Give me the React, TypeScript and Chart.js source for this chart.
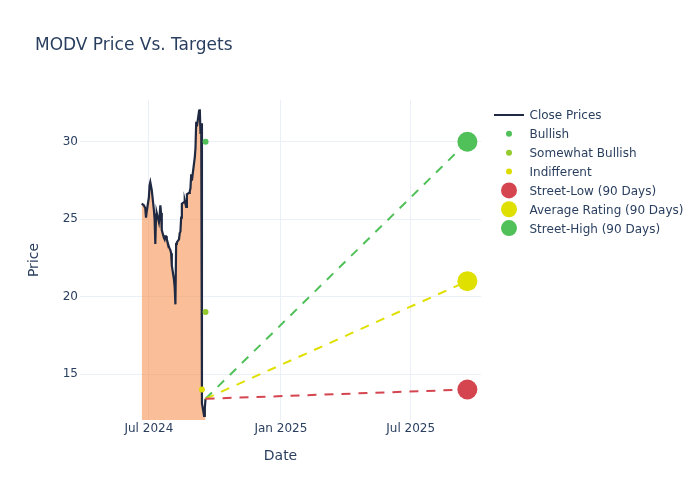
import React, { useEffect, useRef } from 'react';
import { Chart, registerables } from 'chart.js';

Chart.register(...registerables);

// ---------- data ----------
const TITLE = 'MODV Price Vs. Targets';
const X_TITLE = 'Date';
const Y_TITLE = 'Price';

const CLOSE_DATES = [
  '2024-06-21', '2024-06-24', '2024-06-25', '2024-06-26', '2024-06-27', '2024-06-28',
  '2024-07-01', '2024-07-02', '2024-07-03', '2024-07-05',
  '2024-07-08', '2024-07-09', '2024-07-10', '2024-07-11', '2024-07-12',
  '2024-07-15', '2024-07-16', '2024-07-17', '2024-07-18', '2024-07-19',
  '2024-07-22', '2024-07-23', '2024-07-24', '2024-07-25', '2024-07-26',
  '2024-07-29', '2024-07-30', '2024-07-31', '2024-08-01', '2024-08-02',
  '2024-08-05', '2024-08-06', '2024-08-07', '2024-08-08', '2024-08-09',
  '2024-08-12', '2024-08-13', '2024-08-14', '2024-08-15', '2024-08-16',
  '2024-08-19', '2024-08-20', '2024-08-21', '2024-08-22', '2024-08-23',
  '2024-08-26', '2024-08-27', '2024-08-28', '2024-08-29', '2024-08-30',
  '2024-09-03', '2024-09-04', '2024-09-05', '2024-09-06',
  '2024-09-09', '2024-09-10', '2024-09-11', '2024-09-12', '2024-09-13',
  '2024-09-16', '2024-09-17', '2024-09-18',
];
const CLOSE_PRICES = [
  26.0, 25.9, 25.8, 25.7, 25.1, 25.5,
  26.4, 27.2, 27.4, 26.9,
  25.6, 25.0, 23.4, 25.3, 25.4,
  24.8, 25.2, 25.9, 25.4, 24.3,
  23.8, 23.7, 23.9, 23.9, 23.7,
  23.2, 23.1, 23.0, 22.8, 22.0,
  21.1, 20.6, 19.5, 23.4, 23.5,
  23.7, 24.1, 24.2, 25.1, 26.0,
  26.1, 26.2, 26.0, 25.8, 26.6,
  26.7, 26.8, 27.0, 27.9, 27.5,
  29.0, 29.6, 31.3, 31.0,
  32.0, 32.1, 30.5, 31.2, 13.1,
  12.3, 12.8, 13.4,
];

const BULLISH_DATES = ['2024-09-18'];
const BULLISH_VALUES = [30];
const SOMEWHAT_BULLISH_DATES = ['2024-09-18'];
const SOMEWHAT_BULLISH_VALUES = [19];
const INDIFFERENT_DATES = ['2024-09-13'];
const INDIFFERENT_VALUES = [14];

const TARGET_DATE = '2025-09-18';
const STREET_LOW = 14;
const AVERAGE_RATING = 21;
const STREET_HIGH = 30;

const X_MIN = '2024-03-27';
const X_MAX = '2025-10-07';
const Y_MIN = 12.03;
const Y_MAX = 32.7;

const X_TICKS = ['2024-07-01', '2025-01-01', '2025-07-01'];
const X_TICK_LABELS = ['Jul 2024', 'Jan 2025', 'Jul 2025'];
const Y_TICKS = [15, 20, 25, 30];

// ---------- style ----------
const FONT = '"DejaVu Sans", sans-serif';
const TEXT_COLOR = '#2a3f5f';
const GRID_COLOR = '#EBF0F8';
const NAVY = '#1f2942';
const FILL = 'rgba(245,127,49,0.5)';
const GREEN = '#50C058';
const YELLOWGREEN = '#94CA2E';
const YELLOW = '#DCDC00';
const RED = '#D5454F';
const AVG_YELLOW = '#DFDF00';

const toPts = (dates: string[], vals: number[]) =>
  dates.map((d, i) => ({ x: Date.parse(d), y: vals[i] }));

const overlayPlugin = {
  id: 'overlay',
  afterDraw(chart: any) {
    const c = chart.ctx as CanvasRenderingContext2D;
    c.save();
    c.fillStyle = TEXT_COLOR;
    c.textBaseline = 'alphabetic';
    c.textAlign = 'left';
    c.font = `17px ${FONT}`;
    c.fillText(TITLE, 35, 50);

    c.font = `12px ${FONT}`;
    const items = chart.data.datasets
      .map((ds: any) => ds)
      .sort((a: any, b: any) => a.legendIndex - b.legendIndex);
    items.forEach((ds: any, i: number) => {
      const cy = 115 + i * 18.85;
      if (ds.legendKind === 'line') {
        c.strokeStyle = ds.borderColor;
        c.lineWidth = 2;
        c.beginPath();
        c.moveTo(494, cy);
        c.lineTo(524, cy);
        c.stroke();
      } else {
        c.fillStyle = ds.legendColor;
        c.beginPath();
        c.arc(509, cy, ds.legendRadius, 0, Math.PI * 2);
        c.fill();
      }
      c.fillStyle = TEXT_COLOR;
      c.fillText(ds.label, 529.5, cy + 4.4);
    });
    c.restore();
  },
};

export default function App() {
  const ref = useRef<HTMLCanvasElement>(null);

  useEffect(() => {
    if (!ref.current) return;
    const lastX = Date.parse(CLOSE_DATES[CLOSE_DATES.length - 1]);
    const lastY = CLOSE_PRICES[CLOSE_PRICES.length - 1];
    const tx = Date.parse(TARGET_DATE);

    const targetLine = (label: string, value: number, color: string, idx: number) => ({
      type: 'line',
      label,
      data: [{ x: lastX, y: lastY }, { x: tx, y: value }],
      borderColor: color,
      borderWidth: 2,
      borderDash: [9, 8],
      pointRadius: [0, 10],
      pointHoverRadius: [0, 10],
      pointBackgroundColor: color,
      pointBorderWidth: 0,
      fill: false,
      order: 2,
      legendIndex: idx,
      legendKind: 'marker',
      legendColor: color,
      legendRadius: 8,
    });

    const scatter = (label: string, dates: string[], vals: number[], color: string, idx: number) => ({
      type: 'scatter',
      label,
      data: toPts(dates, vals),
      pointRadius: 3,
      pointBackgroundColor: color,
      backgroundColor: color,
      pointBorderWidth: 0,
      order: 1,
      legendIndex: idx,
      legendKind: 'marker',
      legendColor: color,
      legendRadius: 3,
    });

    const chart = new Chart(ref.current, {
      type: 'line',
      data: {
        datasets: [
          {
            type: 'line',
            label: 'Close Prices',
            data: toPts(CLOSE_DATES, CLOSE_PRICES),
            borderColor: NAVY,
            borderWidth: 2.2,
            pointRadius: 0,
            fill: 'origin',
            backgroundColor: FILL,
            tension: 0,
            order: 3,
            legendIndex: 0,
            legendKind: 'line',
          } as any,
          scatter('Bullish', BULLISH_DATES, BULLISH_VALUES, GREEN, 1),
          scatter('Somewhat Bullish', SOMEWHAT_BULLISH_DATES, SOMEWHAT_BULLISH_VALUES, YELLOWGREEN, 2),
          scatter('Indifferent', INDIFFERENT_DATES, INDIFFERENT_VALUES, YELLOW, 3),
          targetLine('Street-Low (90 Days)', STREET_LOW, RED, 4),
          targetLine('Average Rating (90 Days)', AVERAGE_RATING, AVG_YELLOW, 5),
          targetLine('Street-High (90 Days)', STREET_HIGH, GREEN, 6),
        ] as any,
      },
      options: {
        animation: false,
        responsive: false,
        devicePixelRatio: 1,
        layout: { padding: { left: 0, right: 219, top: 100, bottom: 0 } },
        plugins: {
          legend: { display: false },
          title: { display: false },
          tooltip: { enabled: false },
        },
        scales: {
          x: {
            type: 'linear',
            min: Date.parse(X_MIN),
            max: Date.parse(X_MAX),
            afterBuildTicks: (scale: any) => {
              scale.ticks = X_TICKS.map((d) => ({ value: Date.parse(d) }));
            },
            afterFit: (scale: any) => {
              scale.height = 80;
            },
            ticks: {
              autoSkip: false,
              maxRotation: 0,
              padding: 2,
              color: TEXT_COLOR,
              font: { family: FONT, size: 12 },
              callback: (_v: any, i: number) => X_TICK_LABELS[i],
            },
            grid: { color: GRID_COLOR, lineWidth: 1, drawTicks: false },
            border: { display: false },
            title: {
              display: true,
              text: X_TITLE,
              color: TEXT_COLOR,
              font: { family: FONT, size: 14 },
              padding: { top: 0, bottom: 35.6 },
            },
          },
          y: {
            type: 'linear',
            min: Y_MIN,
            max: Y_MAX,
            afterBuildTicks: (scale: any) => {
              scale.ticks = Y_TICKS.map((v) => ({ value: v }));
            },
            afterFit: (scale: any) => {
              scale.width = 80;
            },
            ticks: {
              padding: 2,
              color: TEXT_COLOR,
              font: { family: FONT, size: 12 },
            },
            grid: { color: GRID_COLOR, lineWidth: 1, drawTicks: false },
            border: { display: false },
            title: {
              display: true,
              text: Y_TITLE,
              color: TEXT_COLOR,
              font: { family: FONT, size: 14 },
              padding: { top: 25.6, bottom: 0 },
            },
          },
        },
      } as any,
      plugins: [overlayPlugin],
    });

    return () => chart.destroy();
  }, []);

  return (
    <div style={{ position: 'absolute', left: 0, top: 0, width: 700, height: 500, background: '#ffffff' }}>
      <canvas ref={ref} width={700} height={500} style={{ display: 'block', width: 700, height: 500 }} />
    </div>
  );
}
